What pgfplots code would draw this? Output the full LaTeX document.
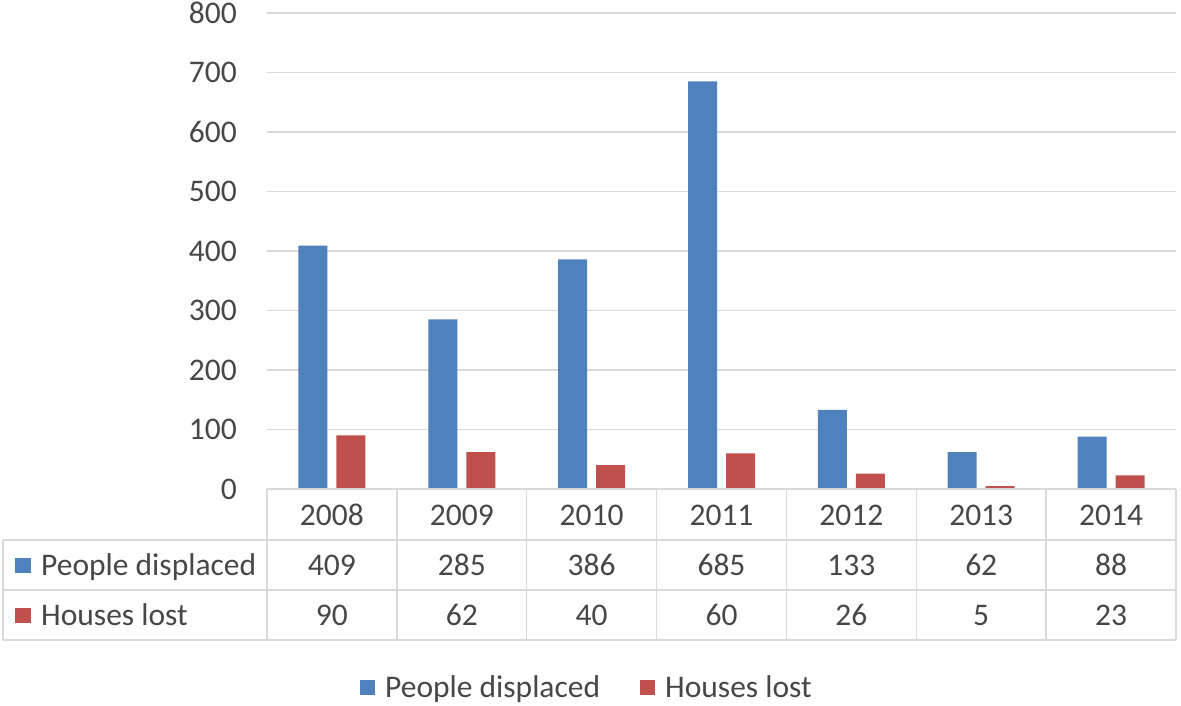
\documentclass[border=0pt]{standalone}
\usepackage{pgfplots}
\pgfplotsset{compat=1.18}
\usepackage{pgfplotstable}
\usepackage{fontspec}
\setmainfont{Carlito}
\definecolor{cblue}{HTML}{4F81BD}
\definecolor{cred}{HTML}{C0504D}
\definecolor{ctext}{HTML}{474747}
\definecolor{cgrid}{HTML}{D9D9D9}
\pgfplotstableread{
x year people houses
0 2008 409 90
1 2009 285 62
2 2010 386 40
3 2011 685 60
4 2012 133 26
5 2013 62 5
6 2014 88 23
}\data
\newcommand{\bigfont}{\fontsize{31.5pt}{36pt}\selectfont}
\begin{document}
\begin{tikzpicture}
\useasboundingbox (-267pt,-216pt) rectangle (914pt,489pt);
\begin{axis}[
  at={(0pt,0pt)}, anchor=south west,
  scale only axis, width=909pt, height=476pt,
  xmin=-0.5, xmax=6.5, ymin=0, ymax=800,
  ytick={0,100,...,800}, xtick=\empty,
  ymajorgrids, grid style={cgrid, line width=1.5pt},
  axis line style={draw=none}, major tick style={draw=none},
  tick label style={font=\bigfont, text=ctext},
  yticklabel style={inner sep=0pt, xshift=-30pt},
  /pgf/number format/assume math mode=true,
  clip=false,
  legend columns=2,
  legend style={at={(0.352,-0.416)}, anchor=center, draw=none, fill=none,
    font=\bigfont, text=ctext,
    /tikz/every odd column/.append style={column sep=8pt},
    /tikz/every even column/.append style={column sep=38pt}},
]
\addplot[ybar, bar width=29pt, bar shift=-19pt, fill=cblue, draw=none,
  legend image code/.code={\fill[cblue] (0pt,-7.5pt) rectangle (15pt,7.5pt);}]
  table[x=x, y=people]{\data};
\addlegendentry{People displaced}
\addplot[ybar, bar width=29pt, bar shift=19pt, fill=cred, draw=none,
  legend image code/.code={\fill[cred] (0pt,-7.5pt) rectangle (15pt,7.5pt);}]
  table[x=x, y=houses]{\data};
\addlegendentry{Houses lost}
% data table text
\addplot[draw=none, mark=none, forget plot, nodes near coords, point meta=explicit symbolic,
  every node near coord/.append style={anchor=center, text=ctext, font=\bigfont}]
  table[x=x, y expr=-43.7, meta=year]{\data};
\addplot[draw=none, mark=none, forget plot, nodes near coords, point meta=explicit symbolic,
  every node near coord/.append style={anchor=center, text=ctext, font=\bigfont}]
  table[x=x, y expr=-127.7, meta=people]{\data};
\addplot[draw=none, mark=none, forget plot, nodes near coords, point meta=explicit symbolic,
  every node near coord/.append style={anchor=center, text=ctext, font=\bigfont}]
  table[x=x, y expr=-211.8, meta=houses]{\data};
\end{axis}
% table borders
\begin{scope}[cgrid, line width=1.5pt]
\draw (0pt,0pt) -- (909pt,0pt);
\draw (-264pt,-51pt) -- (909pt,-51pt);
\draw (-264pt,-101pt) -- (909pt,-101pt);
\draw (-264pt,-151pt) -- (909pt,-151pt);
\draw (-264pt,-51pt) -- (-264pt,-151pt);
\foreach \k in {0,...,7} \draw (\k*129.857pt,0pt) -- (\k*129.857pt,-151pt);
\end{scope}
\fill[cblue] (-252pt,-68.5pt) rectangle (-236pt,-83.5pt);
\fill[cred] (-252pt,-118.5pt) rectangle (-236pt,-133.5pt);
\node[anchor=west, inner sep=0pt, text=ctext, font=\bigfont, text height=21pt, text depth=0pt] at (-226pt,-76pt) {People displaced};
\node[anchor=west, inner sep=0pt, text=ctext, font=\bigfont, text height=21pt, text depth=0pt] at (-226pt,-126pt) {Houses lost};
\end{tikzpicture}
\end{document}
